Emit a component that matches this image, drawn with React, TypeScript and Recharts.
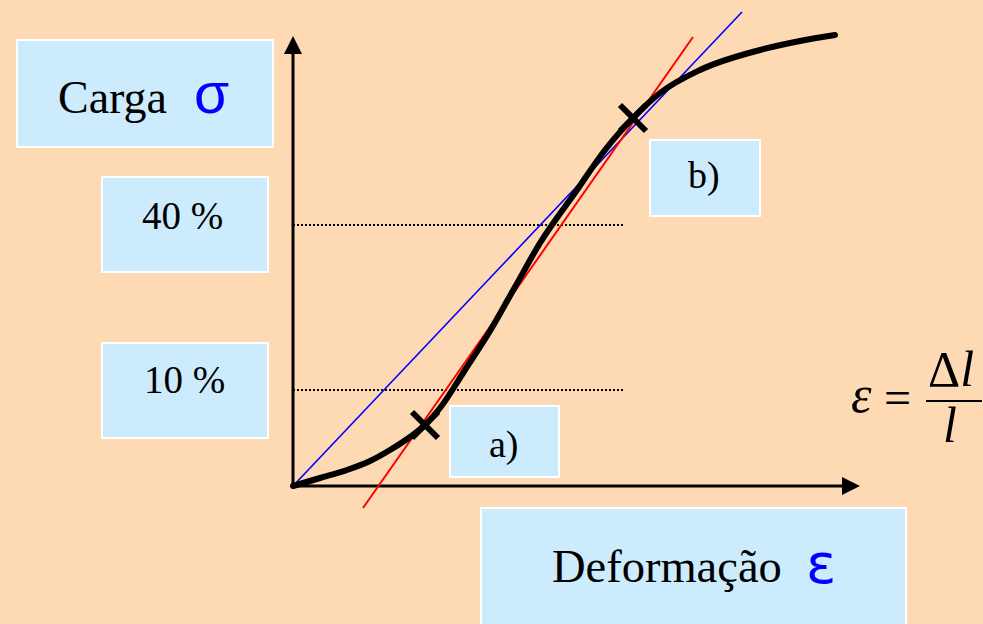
import { LineChart, Line, XAxis, YAxis, ReferenceLine, ReferenceDot } from 'recharts';

// stress-strain curve (arbitrary units, origin at 0,0)
const curveStrain = [0, 2.7, 5.4, 7.7, 9.7, 11.7, 13.2, 14.7, 17.2, 19.7, 22.2, 24.7, 28.4, 31.2, 34.0, 36.7, 40.7, 46.7, 50.7, 54.2];
const curveLoad = [0, 0.8, 1.6, 2.5, 3.6, 4.9, 6.1, 7.8, 11.6, 15.5, 19.9, 24.3, 29.6, 33.6, 36.8, 39.3, 41.6, 43.6, 44.5, 45.1];

// tangent line (red) and secant line (blue)
const tangentStrain = [7.0, 40.0];
const tangentLoad = [-2.2, 44.9];
const secantStrain = [0, 44.9];
const secantLoad = [0, 47.4];

// dotted levels (10 % and 40 % of load)
const levelLoads = [9.6, 26.1];
const levelEnd = 33.0;

// marked points a) and b)
const markStrain = [13.2, 34.0];
const markLoad = [6.1, 36.8];

const axisEndStrain = 56.7;
const axisEndLoad = 45.0;

const toRows = (xs: number[], ys: number[]) => xs.map((x, i) => ({ x, y: ys[i] }));

const BG = '#FDDAB4';
const BOX = '#CCEBFD';

function Cross(props: any) {
  const { cx, cy } = props;
  const s = 13;
  return (
    <g stroke="#000" strokeWidth={6}>
      <line x1={cx - s} y1={cy - s} x2={cx + s} y2={cy + s} />
      <line x1={cx - s} y1={cy + s} x2={cx + s} y2={cy - s} />
    </g>
  );
}

function ArrowUp(props: any) {
  const { cx, cy } = props;
  return <polygon points={`${cx},${cy} ${cx - 9},${cy + 18} ${cx + 9},${cy + 18}`} fill="#000" />;
}

function ArrowRight(props: any) {
  const { cx, cy } = props;
  return <polygon points={`${cx},${cy} ${cx - 18},${cy - 9} ${cx - 18},${cy + 9}`} fill="#000" />;
}

export default function App() {
  const serif = '"Liberation Serif", "Times New Roman", serif';
  return (
    <div style={{ position: 'absolute', left: 0, top: 0, width: 983, height: 624, background: BG, overflow: 'hidden' }}>
      {/* label boxes */}
      <svg width={983} height={624} style={{ position: 'absolute', left: 0, top: 0 }}>
        <rect x={17} y={40} width={256} height={107} fill={BOX} stroke="#fff" strokeWidth={2} />
        <text x={58} y={113} fontFamily={serif} fontSize={46} fill="#000">Carga</text>
        <text x={194} y={113} fontFamily='"Liberation Sans", Arial, sans-serif' fontSize={57} fill="#0000FF">σ</text>

        <rect x={102} y={177} width={166} height={95} fill={BOX} stroke="#fff" strokeWidth={2} />
        <text x={142} y={229} fontFamily={serif} fontSize={39} fill="#000">40 %</text>

        <rect x={102} y={343} width={166} height={95} fill={BOX} stroke="#fff" strokeWidth={2} />
        <text x={144} y={393} fontFamily={serif} fontSize={39} fill="#000">10 %</text>

        <rect x={450} y={406} width={109} height={71} fill={BOX} stroke="#fff" strokeWidth={2} />
        <text x={489} y={457} fontFamily={serif} fontSize={38} fill="#000">a)</text>

        <rect x={650} y={140} width={110} height={76} fill={BOX} stroke="#fff" strokeWidth={2} />
        <text x={688} y={188} fontFamily={serif} fontSize={38} fill="#000">b)</text>

        <rect x={481} y={508} width={425} height={130} fill={BOX} stroke="#fff" strokeWidth={2} />
        <text x={552} y={582} fontFamily={serif} fontSize={46.5} fill="#000">Deformação</text>
        <text x={806} y={583} fontFamily='"DejaVu Sans", sans-serif' fontSize={56} fill="#0000FF">ε</text>

        {/* formula */}
        <text x={851} y={412} fontFamily={serif} fontStyle="italic" fontSize={52} fill="#000">ε</text>
        <text x={884} y={414} fontFamily={serif} fontSize={48} fill="#000">=</text>
        <text x={928} y={386} fontFamily={serif} fontSize={50} fill="#000">Δ<tspan fontStyle="italic">l</tspan></text>
        <line x1={926} y1={401} x2={982} y2={401} stroke="#000" strokeWidth={2} />
        <text x={943} y={442} fontFamily={serif} fontStyle="italic" fontSize={50} fill="#000">l</text>
      </svg>

      <LineChart
        width={983}
        height={624}
        margin={{ top: 0, right: 0, bottom: 0, left: 0 }}
        style={{ position: 'absolute', left: 0, top: 0 }}
      >
        <XAxis type="number" dataKey="x" domain={[-29.3, 69.0]} allowDataOverflow hide />
        <YAxis type="number" dataKey="y" domain={[-13.8, 48.6]} allowDataOverflow hide />

        {levelLoads.map((v) => (
          <ReferenceLine
            key={v}
            segment={[{ x: 0, y: v }, { x: levelEnd, y: v }]}
            stroke="#000"
            strokeWidth={2}
            strokeDasharray="2 2"
          />
        ))}

        {/* axes */}
        <ReferenceLine segment={[{ x: 0, y: 0 }, { x: 0, y: axisEndLoad - 1.5 }]} stroke="#000" strokeWidth={3} />
        <ReferenceLine segment={[{ x: 0, y: 0 }, { x: axisEndStrain - 1.5, y: 0 }]} stroke="#000" strokeWidth={3} />
        <ReferenceDot x={0} y={axisEndLoad} r={0} shape={ArrowUp} />
        <ReferenceDot x={axisEndStrain} y={0} r={0} shape={ArrowRight} />

        <Line
          data={toRows(secantStrain, secantLoad)}
          dataKey="y"
          type="linear"
          stroke="#0000FF"
          strokeWidth={1.6}
          dot={false}
          activeDot={false}
          isAnimationActive={false}
        />
        <Line
          data={toRows(tangentStrain, tangentLoad)}
          dataKey="y"
          type="linear"
          stroke="#FF0000"
          strokeWidth={2}
          dot={false}
          activeDot={false}
          isAnimationActive={false}
        />
        <Line
          data={toRows(curveStrain, curveLoad)}
          dataKey="y"
          type="monotone"
          stroke="#000"
          strokeWidth={6}
          strokeLinecap="round"
          dot={false}
          activeDot={false}
          isAnimationActive={false}
        />

        {markStrain.map((x, i) => (
          <ReferenceDot key={i} x={x} y={markLoad[i]} r={0} shape={Cross} />
        ))}
      </LineChart>
    </div>
  );
}
